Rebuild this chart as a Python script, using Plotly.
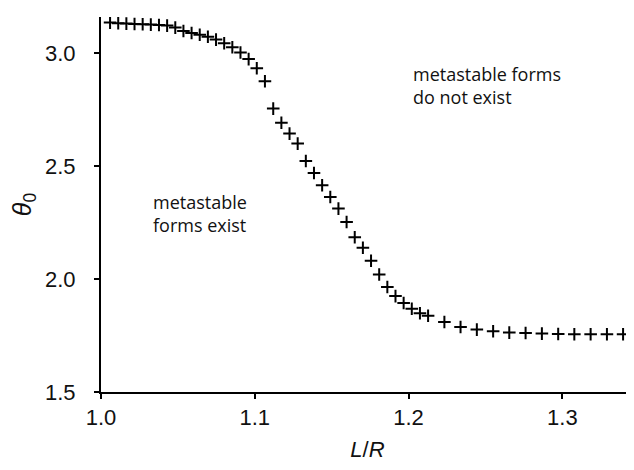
import plotly.graph_objects as go

# L/R values
lr = [1.0059, 1.0112, 1.0165, 1.0218, 1.0271, 1.0324, 1.0377, 1.0430, 1.0483, 1.0536,
      1.0589, 1.0642, 1.0695, 1.0748, 1.0801, 1.0854, 1.0907, 1.0960, 1.1013, 1.1066,
      1.1120, 1.1173, 1.1226, 1.1279, 1.1332, 1.1385, 1.1438, 1.1491, 1.1544, 1.1597,
      1.1650, 1.1703, 1.1756, 1.1809, 1.1862, 1.1915, 1.1968, 1.2021, 1.2074, 1.2127,
      1.2233, 1.2338, 1.2444, 1.2550, 1.2655, 1.2761, 1.2867, 1.2973, 1.3078, 1.3184,
      1.3290, 1.3395]
theta0 = [3.1345, 3.1314, 3.1301, 3.1283, 3.1270, 3.1257, 3.1239, 3.1212, 3.1124, 3.0973,
          3.0885, 3.0805, 3.0717, 3.0593, 3.0429, 3.0252, 3.0022, 2.9730, 2.9323, 2.8748,
          2.7540, 2.6912, 2.6434, 2.5991, 2.5221, 2.4690, 2.4146, 2.3628, 2.3115, 2.2522,
          2.1845, 2.1381, 2.0805, 2.0199, 1.9646, 1.9243, 1.8938, 1.8681, 1.8487, 1.8372,
          1.8097, 1.7876, 1.7761, 1.7686, 1.7628, 1.7611, 1.7584, 1.7566, 1.7553, 1.7553,
          1.7553, 1.7553]

x_ticks = [1.0, 1.1, 1.2, 1.3]
x_ticklabels = ["1.0", "1.1", "1.2", "1.3"]
y_ticks = [1.5, 2.0, 2.5, 3.0]
y_ticklabels = ["1.5", "2.0", "2.5", "3.0"]

fig = go.Figure()
fig.add_trace(go.Scatter(
    x=lr, y=theta0, mode="markers",
    marker=dict(symbol="cross-thin", size=9, color="black",
                line=dict(color="black", width=2)),
    showlegend=False,
))

sans = "Liberation Sans, Arial, sans-serif"
tick_font = dict(family=sans, size=22, color="#111")
fig.update_xaxes(
    range=[1.0, 1.3466], tickvals=x_ticks, ticktext=x_ticklabels,
    showline=True, linecolor="black", linewidth=2, mirror=False,
    ticks="outside", ticklen=5, tickwidth=2, tickcolor="black",
    showgrid=False, zeroline=False, tickfont=tick_font, ticklabelstandoff=0,
    automargin=False,
    title=dict(text="<i>L</i>/<i>R</i>", font=tick_font, standoff=12),
)
fig.update_yaxes(
    range=[1.5, 3.1593], tickvals=y_ticks, ticktext=y_ticklabels,
    showline=True, linecolor="black", linewidth=2, mirror=False,
    ticks="outside", ticklen=5, tickwidth=2, tickcolor="black",
    showgrid=False, zeroline=False, tickfont=tick_font, ticklabelstandoff=14,
    automargin=False,
    title=dict(text="<i>θ</i><sub>0</sub>", font=dict(family=sans, size=25, color="#111"), standoff=7),
)

ann_font = dict(family="Open Sans, Noto Sans, sans-serif", size=18, color="#111")
fig.add_annotation(x=1.0325, y=2.29, xref="x", yref="y", text="metastable<br>forms exist",
                   showarrow=False, xanchor="left", yanchor="middle", align="left", font=ann_font)
fig.add_annotation(x=1.2015, y=2.855, xref="x", yref="y", text="metastable forms<br>do not exist",
                   showarrow=False, xanchor="left", yanchor="middle", align="left", font=ann_font)

# page body adds an 8 px offset, so the figure is sized to fit the window after it
fig.update_layout(
    width=626, height=462,
    margin=dict(l=93, r=0, t=9, b=78),
    paper_bgcolor="white", plot_bgcolor="white",
)
fig.write_html("out.html")
